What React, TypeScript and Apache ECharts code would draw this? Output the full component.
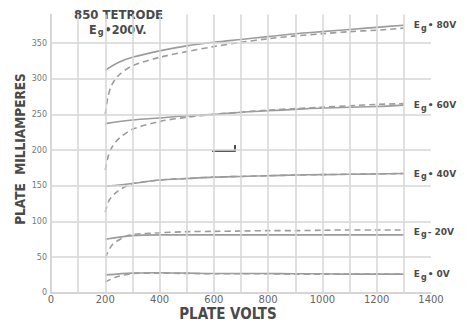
import React, { useEffect, useRef } from "react";
import * as echarts from "echarts";

const xGridTicks = [100, 200, 300, 400, 500, 600, 700, 800, 900, 1000, 1100, 1200, 1300];
const yGridTicks = [50, 100, 150, 200, 250, 300, 350];

const solid80 = [[200, 312], [250, 323], [300, 330], [400, 339], [500, 346], [600, 351], [700, 355], [800, 359], [900, 363], [1000, 366], [1100, 369], [1200, 372], [1300, 375]];
const dashed80 = [[200, 250], [210, 275], [225, 292], [250, 305], [300, 318], [400, 330], [500, 338], [600, 345], [700, 351], [800, 356], [900, 360], [1000, 363], [1100, 366], [1200, 368], [1300, 371]];
const solid60 = [[200, 237], [300, 242], [400, 245], [500, 248], [600, 250], [700, 253], [800, 255], [900, 257], [1000, 259], [1100, 260], [1200, 261], [1300, 263]];
const dashed60 = [[200, 172], [210, 190], [225, 204], [250, 216], [300, 229], [400, 240], [500, 246], [600, 250], [700, 253], [800, 256], [900, 258], [1000, 260], [1100, 262], [1200, 264], [1300, 265]];
const solid40 = [[200, 149], [300, 153], [400, 158], [500, 160], [600, 162], [700, 163], [800, 164], [900, 165], [1000, 165.5], [1100, 166], [1200, 166.5], [1300, 167]];
const dashed40 = [[200, 113], [215, 130], [245, 142], [285, 151], [300, 153], [400, 158], [500, 160], [600, 162], [700, 163], [800, 164], [900, 165], [1000, 165.5], [1100, 166], [1200, 166.5], [1300, 167]];
const solid20 = [[200, 75], [300, 80], [400, 81], [500, 81], [600, 81], [700, 81], [800, 81], [900, 81], [1000, 81], [1100, 81], [1200, 81], [1300, 81]];
const dashed20 = [[200, 49], [225, 67], [260, 76], [290, 81], [400, 84], [500, 85.5], [600, 86], [700, 86.5], [800, 87], [900, 87], [1000, 87.5], [1100, 88], [1200, 88], [1300, 88]];
const solid0 = [[200, 25], [300, 27.5], [400, 28], [500, 27.5], [600, 27], [700, 27], [800, 27], [900, 26.5], [1000, 26.5], [1100, 26], [1200, 26], [1300, 26]];
const dashed0 = [[200, 15], [240, 22], [285, 26], [300, 27], [400, 27.5], [500, 27], [600, 26.5], [700, 26.5], [800, 26.5], [900, 26], [1000, 26], [1100, 26], [1200, 26], [1300, 26]];

const gridLabels = ["80V", "60V", "40V", "20V", "0V"];
const gridSeps = ["•", "•", "•", "-", "•"];

const TEXT = "#4a4a4a";
const CURVE = "#9c9c9c";
const GRID = "#d6d6d6";

export default function App() {
  const ref = useRef<HTMLDivElement>(null);
  useEffect(() => {
    if (!ref.current) return;
    const chart = echarts.init(ref.current, undefined, { renderer: "svg" });
    const font = "DejaVu Sans";
    const cond = "'DejaVu Sans Condensed', 'DejaVu Sans'";
    const curve = (data: number[][], dashed: boolean, idx: number) => ({
      type: "line",
      data,
      showSymbol: false,
      symbol: "none",
      smooth: 0.3,
      z: 3,
      lineStyle: { color: CURVE, width: 1.6, type: dashed ? [6, 4] : "solid" },
      endLabel: dashed
        ? { show: false }
        : {
            show: true,
            distance: 10,
            offset: [0, idx === 3 ? -3 : 0],
            formatter: () => `{e|E}{g|g}{e|${gridSeps[idx]} ${gridLabels[idx]}}`,
            rich: {
              e: { fontFamily: font, fontSize: 9, fontWeight: "bold", color: TEXT },
              g: { fontFamily: font, fontSize: 8, fontWeight: "bold", color: TEXT, padding: [6, 1, 0, 1] },
            },
          },
    });
    chart.setOption({
      animation: false,
      grid: { left: 51, right: 35, top: 14.5, bottom: 30.3 },
      xAxis: {
        type: "value",
        min: 0,
        max: 1400,
        interval: 100,
        axisLine: { lineStyle: { color: "#c8c8c8", width: 1.5 } },
        axisTick: { show: false },
        splitLine: { show: false },
        axisLabel: {
          color: "#666",
          fontFamily: font,
          fontSize: 10,
          margin: 2,
          formatter: (v: number) => (v % 200 === 0 ? String(v) : ""),
        },
      },
      yAxis: {
        type: "value",
        min: 0,
        max: 390,
        interval: 50,
        axisLine: { show: true, lineStyle: { color: "#c8c8c8", width: 1.5 } },
        axisTick: { show: false },
        splitLine: { show: false },
        axisLabel: {
          color: "#777",
          fontFamily: font,
          fontSize: 8,
          margin: 4,
          formatter: (v: number) => (v % 50 === 0 ? String(v) : ""),
        },
      },
      graphic: [
        { type: "text", left: 74, top: 8, style: { text: "850 TETRODE", fontFamily: cond, fontSize: 13, lineHeight: 13, fontWeight: "bold", fill: TEXT } },
        {
          type: "text",
          left: 89,
          top: 22,
          style: {
            text: "{e|E}{g|g}{e|•200V.}",
            rich: {
              e: { fontFamily: cond, fontSize: 12.5, lineHeight: 12, fontWeight: "bold", fill: TEXT, color: TEXT },
              g: { fontFamily: cond, fontSize: 9, lineHeight: 9, fontWeight: "bold", fill: TEXT, color: TEXT, padding: [5, 1, 0, 1] },
            },
          },
        },
        {
          type: "text",
          x: 20,
          y: 149,
          rotation: Math.PI / 2,
          style: {
            text: "PLATE  MILLIAMPERES",
            fontFamily: cond,
            fontSize: 13.5,
            fontWeight: "bold",
            fill: TEXT,
            align: "center",
            verticalAlign: "middle",
          },
        },
        {
          type: "text",
          x: 228,
          y: 314,
          style: { text: "PLATE VOLTS", fontFamily: cond, fontSize: 15, lineHeight: 14, fontWeight: "bold", fill: TEXT, align: "center", verticalAlign: "middle" },
        },
        {
          type: "polyline",
          shape: { points: [[212, 151], [235, 151], [235, 145]] },
          style: { stroke: "#222", lineWidth: 1.6, fill: "none" },
        },
      ],
      series: [
        {
          type: "line",
          data: [[0, 0]],
          symbol: "none",
          lineStyle: { width: 0 },
          z: 1,
          silent: true,
          markLine: {
            silent: true,
            symbol: ["none", "none"],
            label: { show: false },
            lineStyle: { color: GRID, width: 1.5, type: "solid" },
            data: [
              ...xGridTicks.map((v) => [{ coord: [v, 0] }, { coord: [v, 390] }]),
              ...yGridTicks.map((v) => [{ coord: [0, v] }, { coord: [1400, v] }]),
            ],
          },
        },
        curve(solid80, false, 0),
        curve(dashed80, true, 0),
        curve(solid60, false, 1),
        curve(dashed60, true, 1),
        curve(solid40, false, 2),
        curve(dashed40, true, 2),
        curve(solid20, false, 3),
        curve(dashed20, true, 3),
        curve(solid0, false, 4),
        curve(dashed0, true, 4),
      ],
    });
    return () => chart.dispose();
  }, []);
  return <div ref={ref} style={{ position: "fixed", left: 0, top: 0, width: 466, height: 323, background: "#fff" }} />;
}
